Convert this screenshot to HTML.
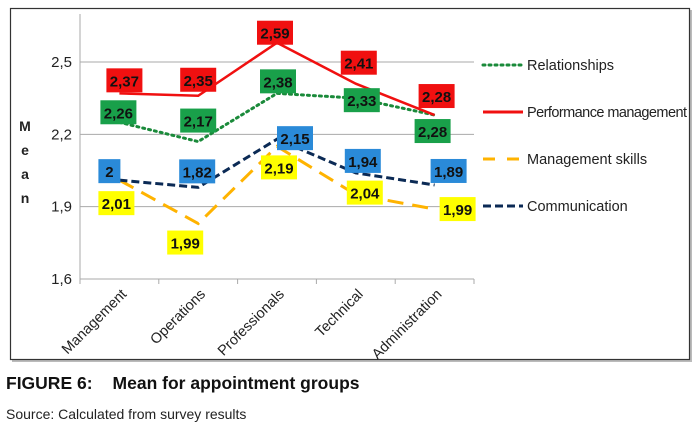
<!DOCTYPE html>
<html><head><meta charset="utf-8"><style>
body{margin:0;background:#fff;width:698px;height:433px;overflow:hidden;font-family:"Liberation Sans",Arial,sans-serif}
svg{position:absolute;left:0;top:0}
.cap{position:absolute;left:6px;top:373px;font-weight:bold;font-size:17.5px;color:#111;white-space:nowrap}
.cap span{margin-left:20px}
.src{position:absolute;left:6px;top:406px;font-size:14px;color:#222}
</style></head><body>
<svg id="chart" width="698" height="370" viewBox="0 0 698 370"></svg>
<div class="cap">FIGURE 6:<span>Mean for appointment groups</span></div>
<div class="src">Source: Calculated from survey results</div>
<script>
const categories=["Management","Operations","Professionals","Technical","Administration"];
const yTicks=[1.6,1.9,2.2,2.5];
const yTickLabels=["1,6","1,9","2,2","2,5"];
const perfValues=[2.37,2.36,2.58,2.41,2.28];
const perfLabels=["2,37","2,35","2,59","2,41","2,28"];
const relValues=[2.25,2.17,2.37,2.35,2.28];
const relLabels=["2,26","2,17","2,38","2,33","2,28"];
const commValues=[2.01,1.98,2.18,2.04,1.99];
const commLabels=["2","1,82","2,15","1,94","1,89"];
const skillValues=[2.01,1.83,2.15,1.95,1.89];
const skillLabels=["2,01","1,99","2,19","2,04","1,99"];

const NS="http://www.w3.org/2000/svg";
const svg=document.getElementById('chart');
const x0=80,x1=474,yMin=1.6,yMax=2.5,py0=279,py1=62;
const band=(x1-x0)/categories.length;
const xS=i=>x0+band*(i+0.5);
const yS=v=>py0-(v-yMin)/(yMax-yMin)*(py0-py1);
function el(t,a,p){const e=document.createElementNS(NS,t);for(const k in a)e.setAttribute(k,a[k]);(p||svg).appendChild(e);return e;}

const frame=el('rect',{x:12,y:10,width:680,height:352,fill:'#bbb'});

const fr=el('rect',{x:10.5,y:8.5,width:679,height:351,fill:'#fff',stroke:'#333','stroke-width':1.2});


yTicks.forEach((t,i)=>{
  const g=el('line',{x1:x0,x2:x1,y1:yS(t),y2:yS(t),stroke:'#aaa','stroke-width':1});
  
  const tx=el('text',{x:x0-8,y:yS(t)+5,'text-anchor':'end','font-size':15,fill:'#222'});
  tx.textContent=yTickLabels[i];
  
});
const ax=el('line',{x1:x0,x2:x0,y1:14,y2:py0+4,stroke:'#aaa'});

["M","e","a","n"].forEach((c,i)=>{
  const t=el('text',{x:25,y:131+i*24,'text-anchor':'middle','font-size':14,'font-weight':'bold',fill:'#222'});
  t.textContent=c;
});
for(let i=0;i<=categories.length;i++){
  const tk=el('line',{x1:x0+band*i,x2:x0+band*i,y1:py0,y2:py0+5,stroke:'#aaa'});
  
}
categories.forEach((c,i)=>{
  const x=xS(i)+8,y=py0+16;
  const t=el('text',{x:x,y:y,'text-anchor':'end','font-size':14.5,fill:'#222',transform:`rotate(-45 ${x} ${y})`});
  t.textContent=c;
});

const series=[
 {name:'relationships',vals:relValues,labs:relLabels,color:'#1a8a3a',dash:'2 4',w:3,cap:'round',box:'#19a04a',dx:[-1,0,1,6,-2],dy:[-10,-21,-12,2,16]},
 {name:'performance-management',vals:perfValues,labs:perfLabels,color:'#f01010',dash:'',w:2.5,cap:'butt',box:'#f01010',dx:[5,0,-2,3,2],dy:[-13,-16,-10,-21,-19]},
 {name:'management-skills',vals:skillValues,labs:skillLabels,color:'#ffb300',dash:'16 9',w:3,cap:'butt',box:'#ffff00',dx:[-3,-13,2,9,23],dy:[23,19,21,-2,0]},
 {name:'communication',vals:commValues,labs:commLabels,color:'#0b2a55',dash:'8 4',w:3,cap:'butt',box:'#2a8ad8',dx:[-10,-1,18,7,14],dy:[-9,-16,-1,-12,-14]}
];
series.forEach(s=>{
  const pts=s.vals.map((v,i)=>xS(i)+','+yS(v)).join(' ');
  const l=el('polyline',{points:pts,fill:'none',stroke:s.color,'stroke-width':s.w,'stroke-dasharray':s.dash,'stroke-linecap':s.cap});
  
});
series.forEach(s=>{
  s.vals.forEach((v,i)=>{
    const cx=xS(i)+s.dx[i],cy=yS(v)+s.dy[i];
    const w=s.labs[i].length>1?36:22;
    const r=el('rect',{x:cx-w/2,y:cy-12,width:w,height:24,fill:s.box});
    
    const t=el('text',{x:cx,y:cy+6,'text-anchor':'middle','font-size':15,'font-weight':'bold',fill:'#111'});
    t.textContent=s.labs[i];
    
  });
});
const legend=[
 {t:'Relationships',c:'#1a8a3a',d:'2 4',cap:'round',y:65},
 {t:'Performance management',c:'#f01010',d:'',cap:'butt',y:112},
 {t:'Management skills',c:'#ffb300',d:'12 12',cap:'butt',y:159},
 {t:'Communication',c:'#0b2a55',d:'8 4',cap:'butt',y:206}
];
legend.forEach(g=>{
  const l=el('line',{x1:483,x2:523,y1:g.y,y2:g.y,stroke:g.c,'stroke-width':3,'stroke-dasharray':g.d,'stroke-linecap':g.cap});
  
  const t=el('text',{x:527,y:g.y+5,'font-size':14.5,fill:'#222'});
  t.textContent=g.t;
  if(g.t.length>20)t.setAttribute('textLength',160);
  
});
</script>
</body></html>
